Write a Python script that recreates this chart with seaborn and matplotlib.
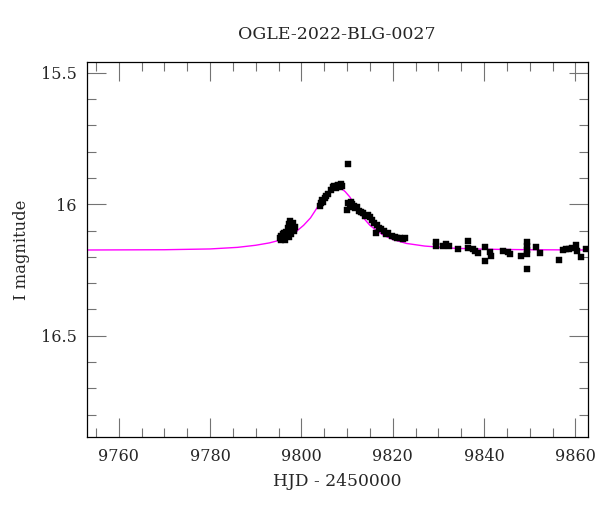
import matplotlib
matplotlib.use("Agg")
import matplotlib.pyplot as plt
from matplotlib.ticker import MultipleLocator
import seaborn as sns
import pandas as pd

# ---------------- data ----------------
title = "OGLE-2022-BLG-0027"
xlabel = "HJD - 2450000"
ylabel = "I magnitude"

obs_hjd = [
    9795.3, 9795.5, 9795.6, 9795.9, 9796.0, 9796.2, 9796.4, 9796.5, 9796.7, 9796.9,
    9797.0, 9797.2, 9797.3, 9797.5, 9797.6, 9797.8, 9797.9, 9798.1, 9798.3, 9798.5, 9798.7,
    9804.0, 9804.2, 9804.5, 9804.8, 9805.1, 9805.5, 9805.8,
    9806.6, 9806.9, 9807.2, 9807.5, 9807.8, 9808.1, 9808.4, 9808.7, 9809.0,
    9810.3,
    9810.0, 9810.3, 9810.6, 9810.9, 9811.2, 9811.5, 9811.8, 9812.2, 9812.6, 9813.0,
    9813.5, 9814.0, 9814.5, 9815.0, 9815.4, 9815.8, 9816.3, 9816.6, 9817.0, 9817.5,
    9818.0, 9818.5, 9819.0, 9819.8, 9820.4, 9821.0, 9821.6, 9822.2, 9822.8,
    9829.4, 9829.4, 9831.1, 9831.6, 9832.3, 9834.3, 9836.4, 9836.5, 9837.6, 9838.0,
    9838.6, 9840.3, 9840.3, 9841.4, 9841.5, 9844.2, 9845.2, 9845.6, 9848.2, 9849.3,
    9849.3, 9849.3, 9849.3, 9849.4, 9851.3, 9852.3, 9856.4, 9857.3, 9858.0, 9858.7,
    9859.3, 9860.2, 9860.3, 9861.3, 9862.4,
]
obs_mag = [
    16.130, 16.120, 16.135, 16.115, 16.128, 16.110, 16.125, 16.135, 16.105, 16.118,
    16.090, 16.125, 16.075, 16.100, 16.065, 16.115, 16.085, 16.070, 16.100, 16.095, 16.085,
    16.008, 15.995, 15.985, 15.990, 15.975, 15.968, 15.960,
    15.945, 15.935, 15.930, 15.940, 15.930, 15.925, 15.935, 15.922, 15.930,
    15.847,
    16.020, 15.995, 16.010, 15.990, 16.000, 16.005, 16.015, 16.012, 16.025, 16.030,
    16.035, 16.045, 16.040, 16.050, 16.060, 16.070, 16.110, 16.080, 16.090, 16.095,
    16.100, 16.115, 16.110, 16.120, 16.125, 16.128, 16.130, 16.132, 16.130,
    16.143, 16.158, 16.160, 16.150, 16.158, 16.172, 16.138, 16.168, 16.172, 16.178,
    16.185, 16.163, 16.214, 16.182, 16.195, 16.178, 16.180, 16.190, 16.198, 16.145,
    16.160, 16.175, 16.188, 16.247, 16.161, 16.184, 16.212, 16.175, 16.170, 16.172,
    16.168, 16.155, 16.178, 16.199, 16.170,
]
obs_err = [0.007] * len(obs_mag)

model_hjd = [
    9753.0, 9770.0, 9780.0, 9786.0, 9790.0, 9793.0, 9795.0, 9797.0, 9799.0, 9800.5,
    9802.0, 9803.5, 9805.0, 9806.0, 9807.0, 9807.8, 9808.6, 9809.6, 9810.6, 9812.0,
    9813.5, 9815.0, 9816.5, 9818.0, 9820.0, 9823.0, 9827.0, 9833.0, 9840.0, 9850.0,
    9863.0,
]
model_mag = [
    16.174, 16.173, 16.170, 16.164, 16.156, 16.147, 16.138, 16.124, 16.102, 16.080,
    16.052, 16.012, 15.972, 15.952, 15.938, 15.933, 15.938, 15.952, 15.972, 16.010,
    16.050, 16.080, 16.100, 16.118, 16.134, 16.149, 16.159, 16.167, 16.171, 16.173,
    16.174,
]

obs = pd.DataFrame({"hjd": obs_hjd, "mag": obs_mag, "err": obs_err})
model = pd.DataFrame({"hjd": model_hjd, "mag": model_mag})

# ---------------- figure ----------------
sns.set_style("ticks")
plt.rcParams["font.family"] = ["DejaVu Serif"]

fig = plt.figure(figsize=(6.0, 5.12), dpi=100)
ax = fig.add_axes([0.1445, 0.1471, 0.835, 0.7313])

sns.lineplot(data=model, x="hjd", y="mag", ax=ax, color="#ff00ff",
             linewidth=1.0, sort=False, zorder=2)
ax.errorbar(obs["hjd"], obs["mag"], yerr=obs["err"], fmt="none",
            ecolor="black", elinewidth=0.8, capsize=0, zorder=3)
sns.scatterplot(data=obs, x="hjd", y="mag", ax=ax, marker="s", s=18,
                color="black", edgecolor="black", linewidth=0.3, zorder=4)

ax.set_xlim(9753.0, 9862.7)
ax.set_ylim(16.884, 15.46)

ax.xaxis.set_major_locator(MultipleLocator(20))
ax.xaxis.set_minor_locator(MultipleLocator(5))
ax.yaxis.set_major_locator(MultipleLocator(0.5))
ax.yaxis.set_minor_locator(MultipleLocator(0.1))
ax.set_yticks([15.5, 16.0, 16.5])
ax.set_yticklabels(["15.5", "16", "16.5"])

ax.tick_params(which="both", direction="in", top=True, right=True,
               color="0.45", width=0.8)
ax.tick_params(which="major", length=13.5)
ax.tick_params(which="minor", length=6.7)
ax.tick_params(axis="x", which="major", pad=8.5, labelsize=11.5)
ax.tick_params(axis="y", which="major", pad=7.0, labelsize=11.5)

for sp in ax.spines.values():
    sp.set_color("black")
    sp.set_linewidth(0.9)

ax.set_xlabel("")
ax.set_ylabel("")
fig.text(337 / 600, 1 - 34.5 / 512, title, ha="center", va="center", fontsize=12.5)
fig.text(337 / 600, 1 - 482 / 512, xlabel, ha="center", va="center", fontsize=12.3)
fig.text(21 / 600, 1 - 249.5 / 512, ylabel, ha="center", va="center",
         rotation=90, fontsize=11.8)

fig.savefig("out.png", dpi=100)
